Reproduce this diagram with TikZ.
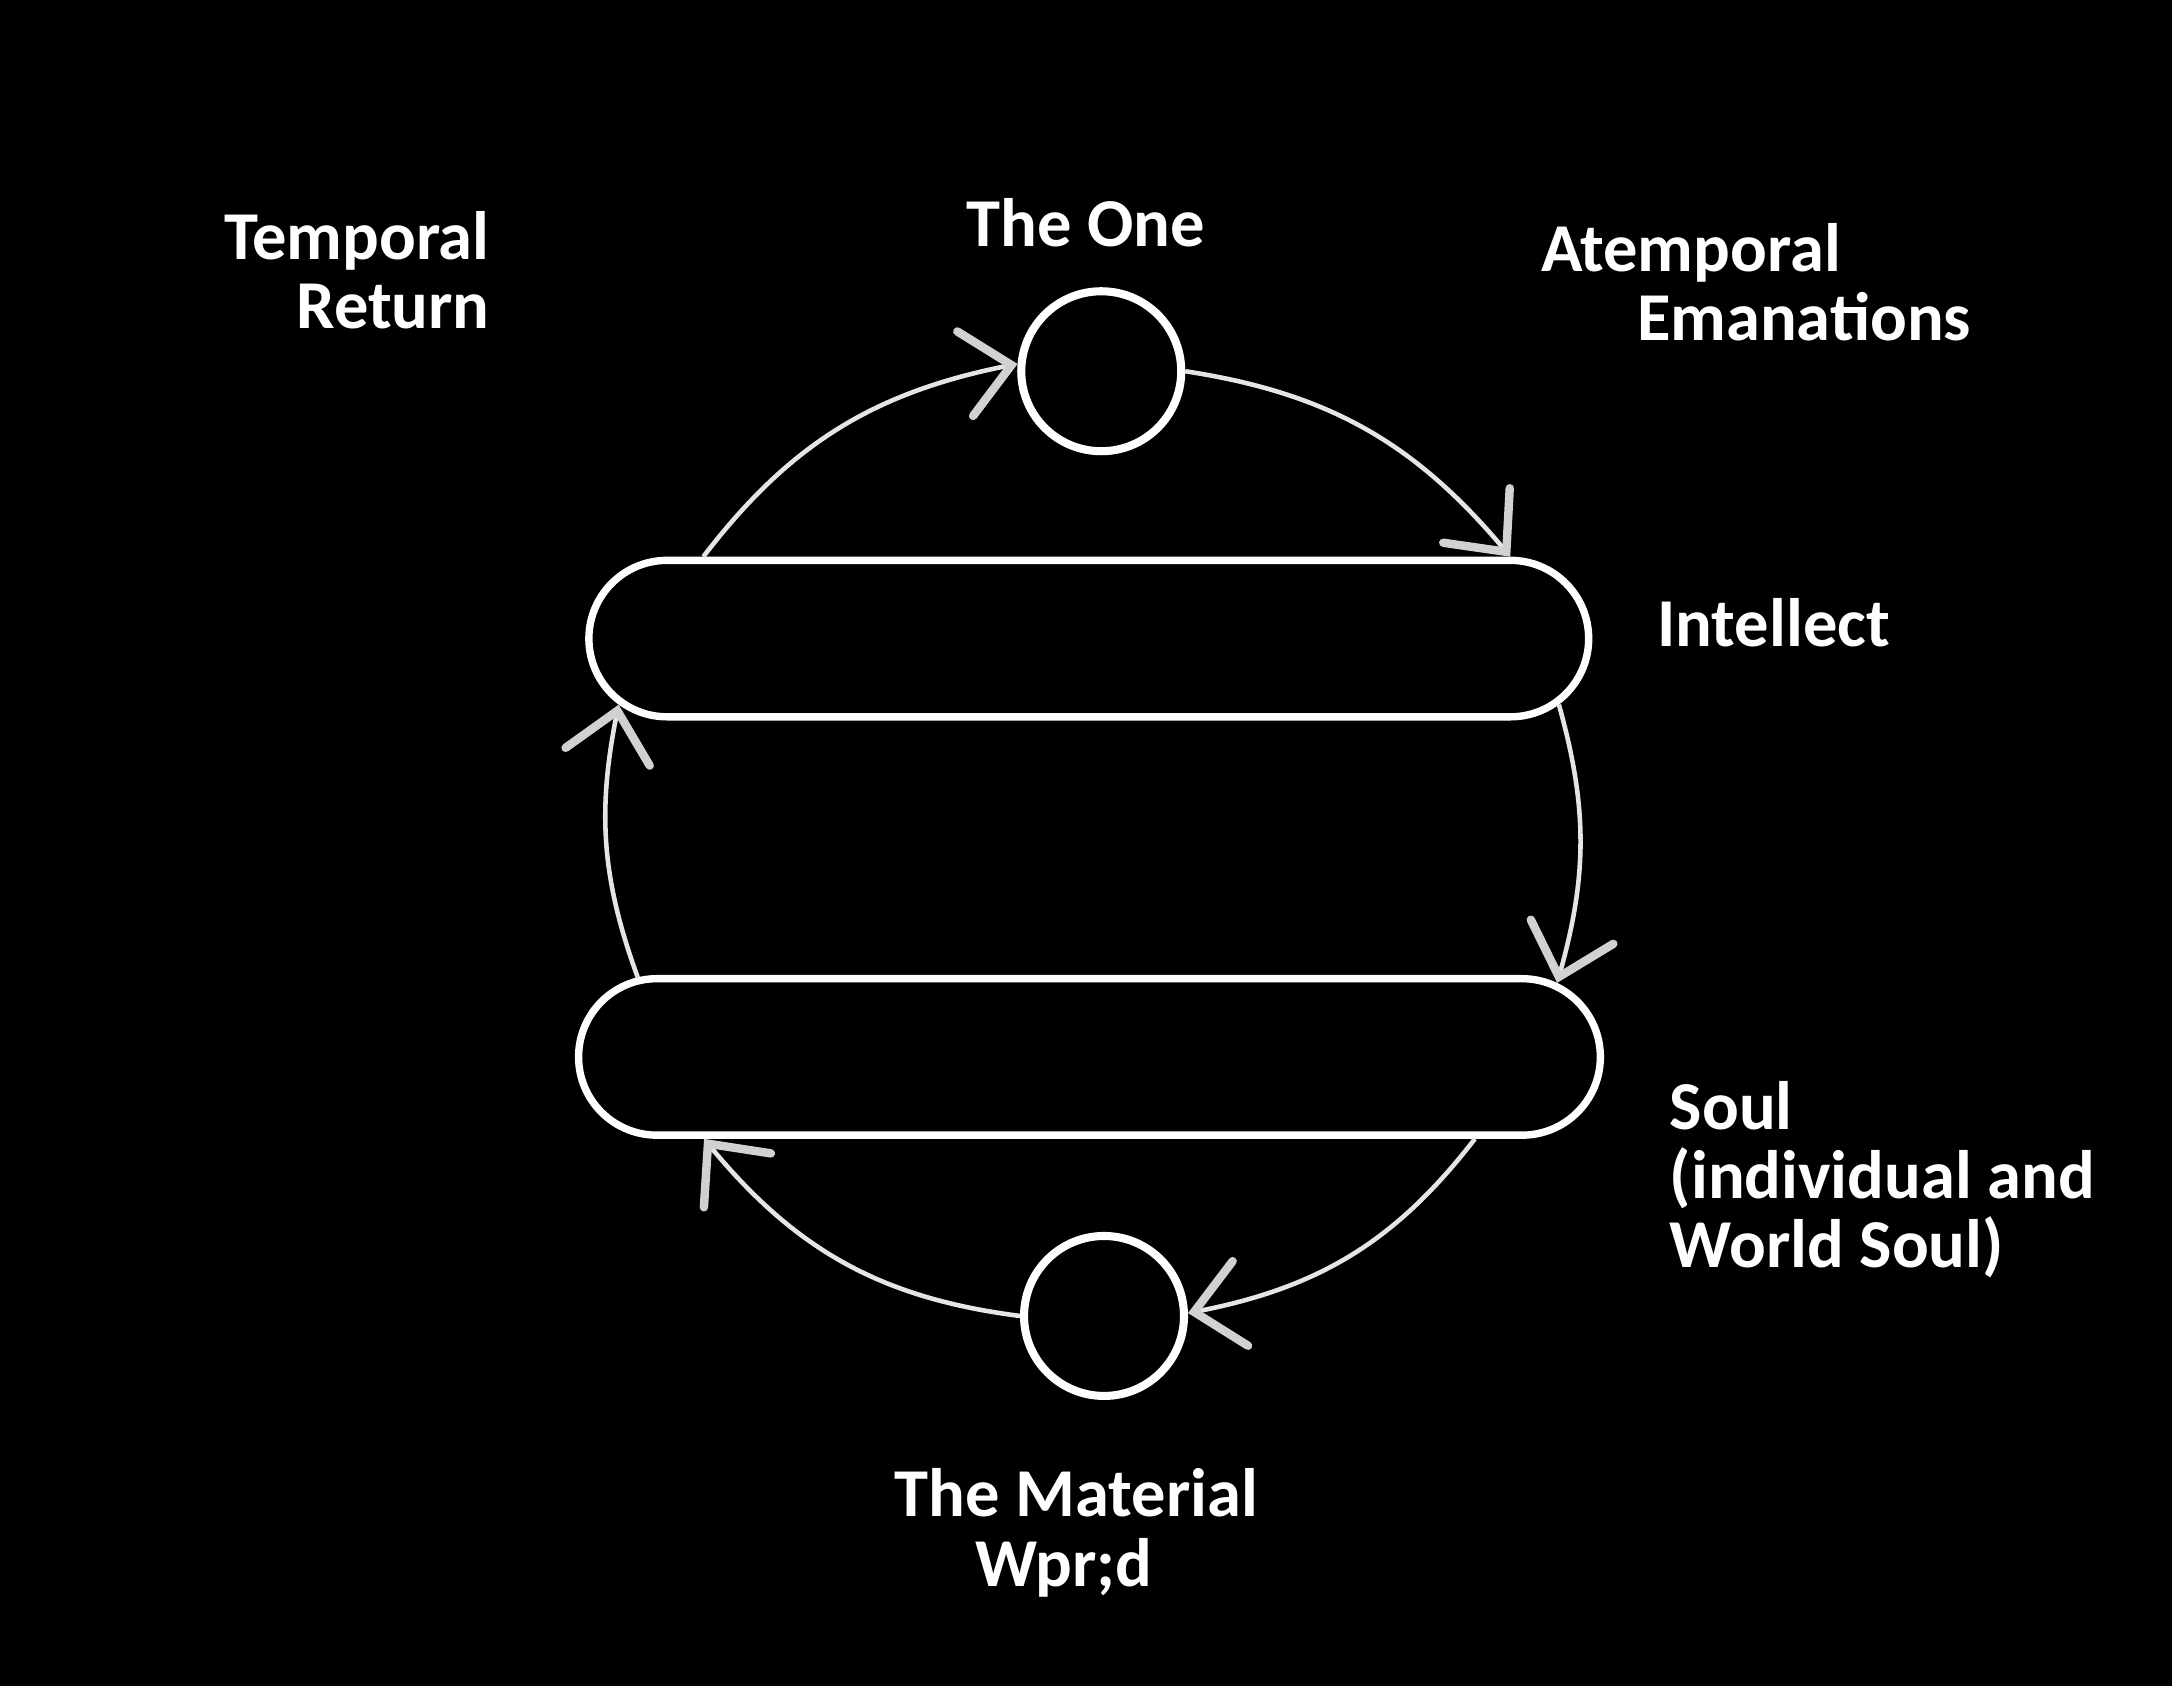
\documentclass[tikz,border=0pt]{standalone}
\usepackage{fontspec}
\setmainfont{Carlito}
\usetikzlibrary{arrows.meta,shapes.misc,bending}

\begin{document}
\begin{tikzpicture}[x=0.013852cm, y=0.013852cm,
    words/.style={text=white, font=\bfseries\fontsize{19.5}{19.7}\selectfont, inner sep=0pt},
    orb/.style={circle, draw=white, line width=2.3pt, minimum size=1.6cm, inner sep=0pt},
    band/.style={rounded rectangle, draw=white, line width=2.1pt, minimum width=#1, minimum height=1.565cm, inner sep=0pt},
    flow/.style={white!90!black, line width=1.3pt,
      -{Straight Barb[length=0.47cm, width=0.86cm, line width=2.4pt, line cap=round, color=white!82!black]}}]

    % black page
    \fill[black] (0,0) rectangle (1568,-1217);

    % the hypostases
    \node[orb] (one) at (795,-268) {};
    \node[band=10cm] (intellect) at (786,-461) {};
    \node[band=10.22cm] (soul) at (786.5,-763) {};
    \node[orb] (material) at (797,-950) {};

    % 1. Atemporal emanations, down the right side
    \draw[flow] (one.0) to[bend left=21] (intellect.11);
    \draw[flow] (intellect.-8) to[bend left=16] (soul.9);
    \draw[flow] (soul.-12) to[bend left=21] (material.2);

    % 2. Temporal return, up the left side
    \draw[flow] (material.180) to[bend left=22] (soul.192);
    \draw[flow] (soul.170) to[bend left=16] (intellect.188);
    \draw[flow] (intellect.168) to[bend left=21] (one.175);

    % labels (base = last line)
    \node[words, anchor=base] (oneText) at (784,-178) {The One};
    \node[words, anchor=base east, align=right] (returnText) at (354,-237) {Temporal\\Return};
    \node[words, anchor=base west, align=left] (emanText) at (1112,-246) {Atemporal\\\hspace*{0.96cm}Emanations};
    \node[words, anchor=base west] (intellectText) at (1196,-467) {Intellect};
    \node[words, anchor=base west, align=left] (soulText) at (1205,-915) {Soul\\(individual and\\World Soul)};
    \node[words, anchor=base, align=center] (materialText) at (777,-1145) {The Material\\Wpr;d\hspace*{0.25cm}};
\end{tikzpicture}
\end{document}
